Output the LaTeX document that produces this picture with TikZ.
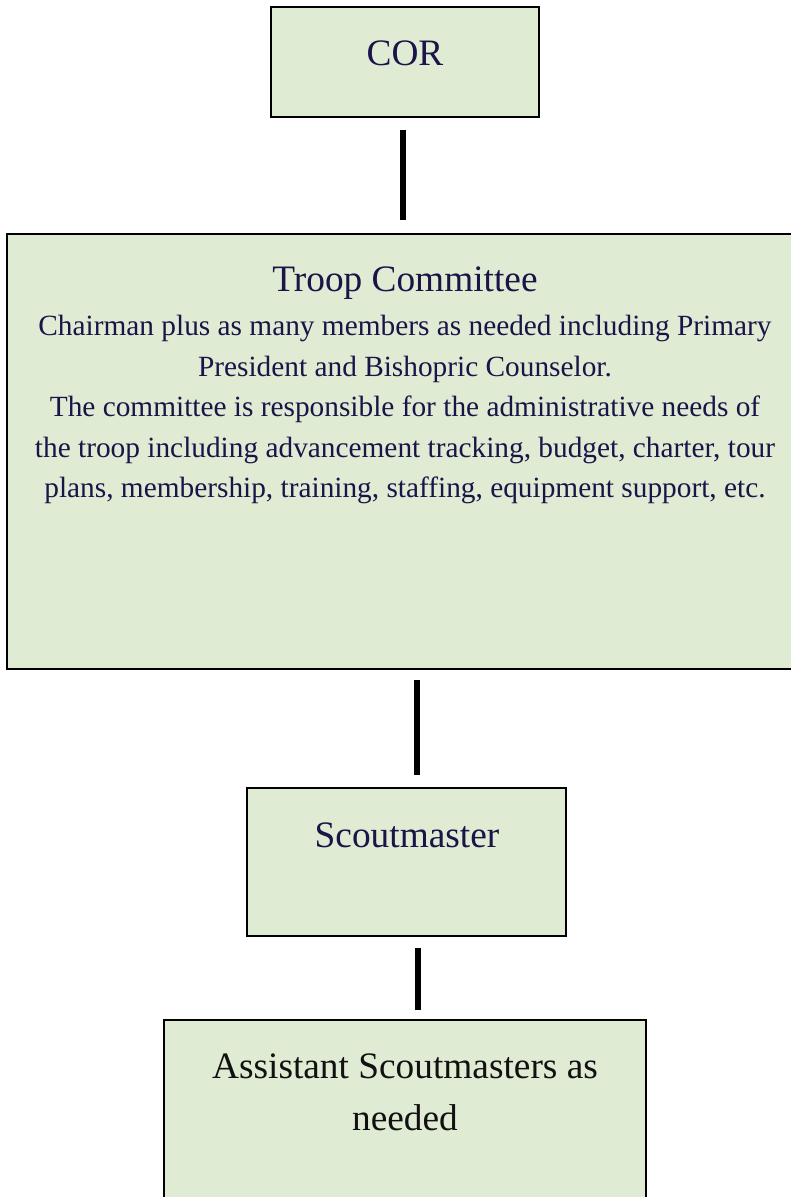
\documentclass[tikz,border=0pt]{standalone}
\usepackage{fontspec}
\setmainfont{Liberation Serif}
\definecolor{boxfill}{HTML}{E0EBD4}
\definecolor{navytext}{HTML}{1A1448}
\definecolor{darktext}{HTML}{111111}
\begin{document}
\begin{tikzpicture}[x=0.75pt,y=-0.75pt,
  orgbox/.style={draw=black, line width=1.9pt, fill=boxfill, rectangle, inner sep=0pt},
  conn/.style={draw=black, line width=4.3pt},
  bigtext/.style={font=\fontsize{28pt}{34pt}\selectfont, text=navytext, anchor=base, inner sep=0pt},
  smalltext/.style={font=\fontsize{22pt}{30pt}\selectfont, text=navytext, anchor=base, inner sep=0pt},
  asstext/.style={font=\fontsize{28pt}{34pt}\selectfont, text=darktext, anchor=base, inner sep=0pt}]
\useasboundingbox (0,0) rectangle (791,1197);
\clip (0,0) rectangle (791,1197);
\fill[white] (0,0) rectangle (791,1197);
% boxes
\node[orgbox, minimum width=201pt, minimum height=82.5pt] (cor) at (405,62) {};
\node[orgbox, minimum width=594.75pt, minimum height=326.25pt] (troop) at (403.5,451.5) {};
\node[orgbox, minimum width=239.25pt, minimum height=111pt] (scout) at (406.5,862) {};
\node[orgbox, minimum width=361.5pt, minimum height=142.5pt] (assist) at (405,1115) {};
% texts
\node[bigtext] (cort) at (405,65) {COR};
\node[bigtext] (troopt) at (405,291) {Troop Committee};
\node[smalltext] (tl1) at (405,335) {Chairman plus as many members as needed including Primary};
\node[smalltext] (tl2) at (405,376) {President and Bishopric Counselor.};
\node[smalltext] (tl3) at (405,416) {The committee is responsible for the administrative needs of};
\node[smalltext] (tl4) at (405,457) {the troop including advancement tracking, budget, charter, tour};
\node[smalltext] (tl5) at (405,497) {plans, membership, training, staffing, equipment support, etc.};
\node[bigtext] (scoutt) at (407,847) {Scoutmaster};
\node[asstext] (asst1) at (405,1078) {Assistant Scoutmasters as};
\node[asstext] (asst2) at (405,1130) {needed};
% connectors
\draw[conn, shorten <=9pt, shorten >=9.75pt] ([xshift=-1.5pt]cor.south) -- ([xshift=-1.5pt]cor.south |- troop.north);
\draw[conn, shorten <=7.5pt, shorten >=9pt] ([xshift=10.1pt]troop.south) -- ([xshift=10.1pt]troop.south |- scout.north);
\draw[conn, shorten <=8.25pt, shorten >=6.75pt] ([xshift=8.6pt]scout.south) -- ([xshift=8.6pt]scout.south |- assist.north);
\end{tikzpicture}
\end{document}
